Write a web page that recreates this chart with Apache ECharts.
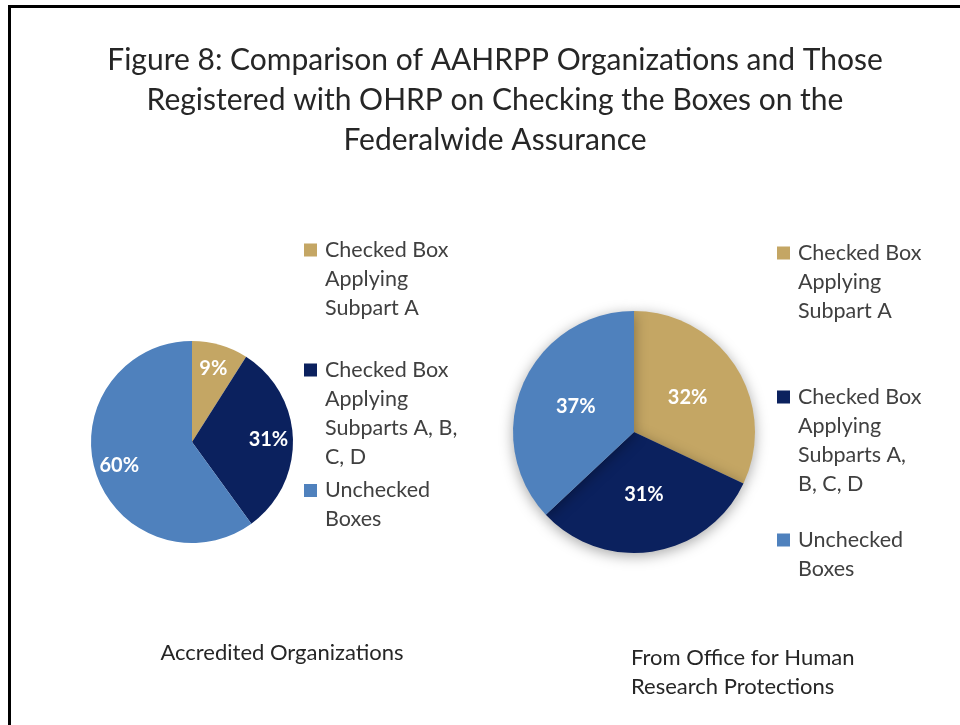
<!DOCTYPE html>
<html>
<head>
<meta charset="utf-8">
<script src="https://cdn.jsdelivr.net/npm/echarts@6/dist/echarts.min.js"></script>
<style>
  html, body { margin: 0; padding: 0; background: #fff; }
  #chart { width: 960px; height: 725px; }
</style>
</head>
<body>
<div id="chart"></div>
<script>
'use strict';
// data
var categories = ['Checked Box Applying Subpart A', 'Checked Box Applying Subparts A, B, C, D', 'Unchecked Boxes'];
var accreditedValues = [9, 31, 60];
var ohrpValues = [32, 31, 37];
// wrapped legend text, one array per pie
var leftLegendText = ['Checked Box\nApplying\nSubpart A', 'Checked Box\nApplying\nSubparts A, B,\nC, D', 'Unchecked\nBoxes'];
var rightLegendText = ['Checked Box\nApplying\nSubpart A', 'Checked Box\nApplying\nSubparts A,\nB, C, D', 'Unchecked\nBoxes'];
var colors = ['#C4A664', '#0B215E', '#4F81BD'];

var FONT = 'Lato';
var LINE = 29;

function pieData(values) {
    var out = [];
    for (var i = 0; i < categories.length; i++) {
        out.push({ name: categories[i], value: values[i], itemStyle: { color: colors[i] } });
    }
    return out;
}

// one legend per entry so the square sits on the first text line
function makeLegend(idx, text, left, top) {
    var n = text.split('\n').length;
    var h = n * LINE;
    var c = LINE / 2;
    var icon = 'path://M0,' + (c - 6.5) + 'L13,' + (c - 6.5) + 'L13,' + (c + 6.5) + 'L0,' + (c + 6.5) + 'Z' +
        'M0,0L0,0M16,' + h + 'L16,' + h;
    return {
        left: left,
        top: top,
        padding: 0,
        orient: 'vertical',
        itemWidth: 16,
        itemHeight: h,
        selectedMode: false,
        itemStyle: { borderWidth: 0 },
        data: [{ name: categories[idx], icon: icon }],
        formatter: function () { return text; },
        textStyle: { fontFamily: FONT, fontSize: 21.5, lineHeight: LINE, color: '#404040' }
    };
}

var myChart = echarts.init(document.getElementById('chart'));
var option = {
    animation: false,
    title: [
        {
            text: 'Figure 8: Comparison of AAHRPP Organizations and Those\nRegistered with OHRP on Checking the Boxes on the\nFederalwide Assurance',
            left: 490,
            top: 35,
            textAlign: 'center',
            textStyle: { fontFamily: FONT, fontSize: 30, fontWeight: 'normal', lineHeight: 40, color: '#262626' }
        },
        {
            text: 'Accredited Organizations',
            left: 277,
            top: 634,
            textAlign: 'center',
            textStyle: { fontFamily: FONT, fontSize: 22, fontWeight: 'normal', lineHeight: 28, color: '#262626' }
        },
        {
            text: 'From Office for Human\nResearch Protections',
            left: 626,
            top: 638,
            textStyle: { fontFamily: FONT, fontSize: 22, fontWeight: 'normal', lineHeight: 29, color: '#262626' }
        }
    ],
    graphic: [
        {
            type: 'polyline',
            shape: { points: [[9.5, 725], [9.5, 6.5], [960, 6.5]] },
            style: { stroke: '#000', lineWidth: 3, fill: null },
            silent: true
        }
    ],
    legend: [
        makeLegend(0, leftLegendText[0], 304, 235.5),
        makeLegend(1, leftLegendText[1], 304, 355.5),
        makeLegend(2, leftLegendText[2], 304, 476),
        makeLegend(0, rightLegendText[0], 777, 238.5),
        makeLegend(1, rightLegendText[1], 777, 382.5),
        makeLegend(2, rightLegendText[2], 777, 525.5)
    ],
    series: [
        {
            name: 'Accredited Organizations',
            type: 'pie',
            center: [192, 442],
            radius: [0, 101],
            startAngle: 90,
            silent: true,
            label: { show: false },
            labelLine: { show: false },
            itemStyle: { borderWidth: 0 },
            data: pieData(accreditedValues)
        },
        {
            // label-only ring so the left labels sit further out
            name: 'Accredited labels',
            type: 'pie',
            center: [192, 442],
            radius: [46, 101],
            startAngle: 90,
            silent: true,
            z: 5,
            itemStyle: { color: 'rgba(0,0,0,0)', borderWidth: 0 },
            label: {
                show: true,
                position: 'inside',
                formatter: '{c}%',
                color: '#fff',
                fontFamily: FONT,
                fontSize: 20,
                fontWeight: 'bold'
            },
            labelLine: { show: false },
            data: accreditedValues.map(function (v, i) { return { name: categories[i], value: v }; })
        },
        {
            name: 'From Office for Human Research Protections',
            type: 'pie',
            center: [634, 432],
            radius: [0, 121],
            startAngle: 90,
            silent: true,
            itemStyle: {
                borderWidth: 0,
                shadowBlur: 14,
                shadowOffsetY: 3,
                shadowColor: 'rgba(0,0,0,0.35)'
            },
            label: {
                show: true,
                position: 'inside',
                formatter: '{c}%',
                color: '#fff',
                fontFamily: FONT,
                fontSize: 20,
                fontWeight: 'bold'
            },
            labelLine: { show: false },
            data: pieData(ohrpValues)
        }
    ]
};
myChart.setOption(option);
</script>
</body>
</html>
